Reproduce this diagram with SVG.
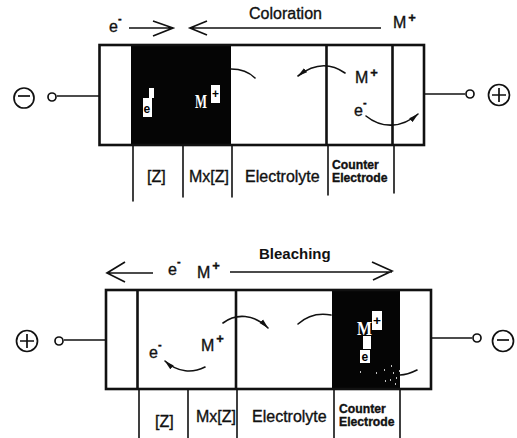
<svg xmlns="http://www.w3.org/2000/svg" width="517" height="438" viewBox="0 0 517 438">
<style>
text{font-family:"Liberation Sans",Arial,sans-serif;fill:#111;font-size:16px;stroke:#111;stroke-width:.35}
.u{font-size:13px;font-weight:bold}
.m{font-size:11px;font-weight:bold}
.s{font-size:12.200px;font-weight:bold}
.w{font-family:"Liberation Serif",serif;fill:#fff;stroke:none;font-weight:bold;font-size:18px}
.p{fill:#000;stroke:none;font-size:12px;font-weight:bold}
.b{fill:none;stroke:#111;stroke-width:2.600}
.t{fill:none;stroke:#111;stroke-width:1.500}
.k{fill:#050505;stroke:none}
.h{fill:none;stroke:#111;stroke-width:1.700}
.v{fill:none;stroke:#111;stroke-width:1.600;stroke-linecap:round}
</style>
<defs>
<marker id="a" viewBox="0 0 10 6" refX="9.500" refY="3" markerWidth="10" markerHeight="6" markerUnits="userSpaceOnUse" orient="auto"><path d="M0 0.500L10 3L0 5.500Z" fill="#111"/></marker>
</defs>
<rect width="517" height="438" fill="#fff"/>
<g id="cell-coloration">
<rect class="k" x="131" y="44" width="100" height="101"/>
<rect class="b" x="99.500" y="45" width="324.500" height="100"/>
<path class="b" d="M326.500 45V145M392.500 45V145"/>
<rect x="149" y="88" width="5" height="10" fill="#fff"/><rect x="143" y="98" width="9" height="19" fill="#fff"/>
<text x="143.500" y="113" class="p">e</text>
<text x="195" y="108" class="w" textLength="12" lengthAdjust="spacingAndGlyphs">M</text>
<rect x="211" y="85" width="9" height="18" fill="#fff"/>
<text x="212" y="98" class="p" textLength="7" lengthAdjust="spacingAndGlyphs">+</text>
</g>
<g id="term-neg-top"><circle class="h" cx="24" cy="98" r="10"/><path class="h" d="M18 96H30"/><circle class="h" cx="52" cy="97" r="4"/><path class="t" d="M57 96H99"/></g>
<g id="term-pos-top"><circle class="h" cx="499" cy="95" r="10.500"/><path class="h" d="M492 95H506M499 88V102"/><circle class="h" cx="470" cy="94" r="4"/><path class="t" d="M424 94H465"/></g>
<g id="labels-top">
<text x="109" y="32">e<tspan class="m" dy="-10">-</tspan></text>
<text x="249" y="19">Coloration</text>
<text x="393" y="28">M<tspan class="u" dx="2" dy="-6">+</tspan></text>
<text x="147" y="182">[Z]</text><text x="189" y="182">Mx[Z]</text><text x="245" y="182">Electrolyte</text>
<text x="332" y="169" class="s">Counter</text><text x="332" y="182" class="s">Electrode</text>
<text x="355" y="83">M<tspan class="u" dx="2" dy="-6">+</tspan></text>
<text x="354" y="116">e<tspan class="m" dy="-10">-</tspan></text>
</g>
<g id="connectors-top">
<path class="h" d="M129 28H172M153 21L173 28L153 36"/>
<path class="h" d="M190 28H381M207 21L190 28L207 35"/>
<path class="v" d="M133 146V201M183 146V197M232 146V197M328 146V195M394 146V193"/>
<path class="v" d="M231 69C242 69 250 73 255 78"/>
<path class="v" d="M345 73C332 64 316 62 298 76" marker-end="url(#a)"/>
<path class="v" d="M366 116C382 129 402 128 418 114" marker-end="url(#a)"/>
</g>
<g id="cell-bleaching">
<rect class="k" x="332" y="289" width="68" height="100"/>
<rect class="b" x="106" y="290" width="325" height="99"/>
<path class="b" d="M137.500 290V389M236 290V389"/>
<text x="357" y="335" class="w" textLength="15" lengthAdjust="spacingAndGlyphs">M</text><rect x="372" y="311" width="10" height="19" fill="#fff"/>
<text x="373" y="325" class="p" textLength="8" lengthAdjust="spacingAndGlyphs">+</text>
<rect x="363" y="336" width="8" height="13" fill="#fff"/><rect x="360" y="350" width="10" height="13" fill="#fff"/>
<text x="361.500" y="361" class="p">e</text>
<path d="M360 372h1M376 373h1M384 370h1M391 366h1M393 373h1M390 380h1M385 381h1M396 378h1M399 371h1M395 384h1" stroke="#fff" fill="none" stroke-width="1.500"/>
</g>
<g id="term-pos-bottom"><circle class="h" cx="27" cy="341" r="10.500"/><path class="h" d="M20 341H34M27 334V348"/><circle class="h" cx="59" cy="341" r="4"/><path class="t" d="M64 340H106"/></g>
<g id="term-neg-bottom"><circle class="h" cx="503" cy="341" r="10.500"/><path class="h" d="M497 340H509"/><circle class="h" cx="477" cy="338" r="4"/><path class="t" d="M431 338H472"/></g>
<g id="labels-bottom">
<text x="168" y="275">e<tspan class="m" dy="-10">-</tspan></text>
<text x="197" y="278">M<tspan class="u" dx="2" dy="-8">+</tspan></text>
<text x="259" y="259" style="font-weight:bold;stroke:none;font-size:15px">Bleaching</text>
<text x="155" y="427">[Z]</text><text x="196" y="422">Mx[Z]</text><text x="252" y="422">Electrolyte</text>
<text x="339" y="413" class="s">Counter</text><text x="339" y="426" class="s">Electrode</text>
<text x="201" y="351">M<tspan class="u" dx="2" dy="-8">+</tspan></text>
<text x="149" y="358">e<tspan class="m" dy="-10">-</tspan></text>
</g>
<g id="connectors-bottom">
<path class="h" d="M153 273H107M125 262L107 273L125 282"/>
<path class="h" d="M230 272H392M372 262L392 271L373 280"/>
<path class="v" d="M139 390V438M188 390V438M237 390V438M334 390V438M400 390V438"/>
<path class="v" d="M223 323C236 313 254 314 268 328" marker-end="url(#a)"/>
<path class="v" d="M298 324C308 315 320 313 331 315"/>
<path class="v" d="M205 367C193 373 178 373 165 361" marker-end="url(#a)"/>
<path class="v" d="M400 375C404 375 411 373 417 370"/>
</g>
</svg>
